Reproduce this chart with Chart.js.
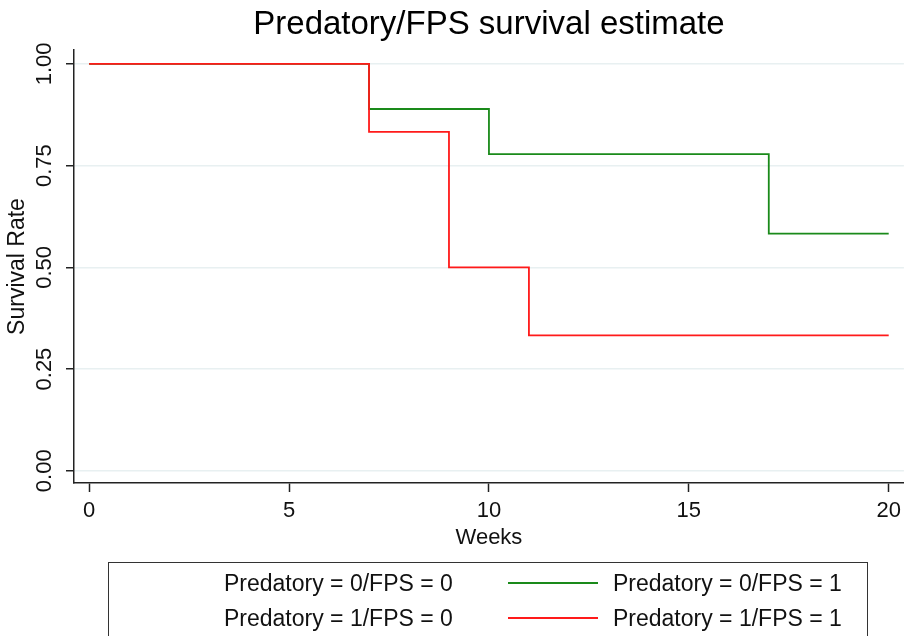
<!DOCTYPE html>
<html>
<head>
<meta charset="utf-8">
<script src="https://cdn.jsdelivr.net/npm/chart.js@4.4.1/dist/chart.umd.min.js"></script>
<style>
  html, body { margin: 0; padding: 0; background: #fff; overflow: hidden; }
  #wrap { position: relative; width: 907px; height: 636px; }
  #legend { position: absolute; left: 108px; top: 562px; width: 760px; height: 100px;
    border: 1.5px solid #333; box-sizing: border-box; font: 23px "Liberation Sans", Arial, sans-serif; color: #111; }
  .item { position: absolute; height: 30px; display: flex; align-items: center; }
  .key { width: 90px; height: 0; border-top: 2px solid transparent; margin-right: 15px; }
</style>
</head>
<body>
<div id="wrap">
  <canvas id="km" width="907" height="636"></canvas>
  <div id="legend"></div>
</div>
<script>
// Kaplan-Meier estimates (step changes at event weeks)
const seriesLabels = ["Predatory = 0/FPS = 0", "Predatory = 0/FPS = 1", "Predatory = 1/FPS = 0", "Predatory = 1/FPS = 1"];
const seriesColors = ["transparent", "#1a8a1a", "transparent", "#ff1a1a"];
const weeksP0F0 = [];
const survP0F0 = [];
const weeksP0F1 = [0, 7, 10, 17, 20];
const survP0F1 = [1, 0.889, 0.778, 0.583, 0.583];
const weeksP1F0 = [];
const survP1F0 = [];
const weeksP1F1 = [0, 7, 9, 11, 20];
const survP1F1 = [1, 0.833, 0.5, 0.333, 0.333];
const xTicks = [0, 5, 10, 15, 20];
const yTicks = [0, 0.25, 0.5, 0.75, 1];

const FONT = "'Liberation Sans', Arial, sans-serif";
const pts = (xs, ys) => xs.map((x, i) => ({ x, y: ys[i] }));
const series = [[weeksP0F0, survP0F0], [weeksP0F1, survP0F1], [weeksP1F0, survP1F0], [weeksP1F1, survP1F1]];

const datasets = series.map((s, i) => ({
  label: seriesLabels[i],
  data: pts(s[0], s[1]),
  borderColor: seriesColors[i],
  backgroundColor: "transparent",
  borderWidth: 1.8,
  stepped: true,
  pointRadius: 0,
  fill: false,
  order: i === 3 ? 0 : 1   // red on top of green for the shared start
}));

new Chart(document.getElementById("km").getContext("2d"), {
  type: "line",
  data: { datasets },
  options: {
    responsive: false,
    animation: false,
    layout: { padding: { left: 0, right: 2, top: 0, bottom: 83 } },
    plugins: {
      legend: { display: false },
      tooltip: { enabled: false },
      // fullSize off so the title centres over the plot region, as Stata does
      title: { display: true, fullSize: false, text: "Predatory/FPS survival estimate", color: "#000",
        font: { family: FONT, size: 33, weight: "normal" }, padding: { top: 5, bottom: 5.4 } }
    },
    scales: {
      x: {
        type: "linear", min: -0.38, max: 20.38,
        afterBuildTicks: s => { s.ticks = xTicks.map(v => ({ value: v })); },
        afterFit: s => { s.height = 70; },
        grid: { drawOnChartArea: false, drawTicks: true, tickLength: 9, tickColor: "#222", tickWidth: 1.5 },
        border: { color: "#222", width: 1.5 },
        ticks: { color: "#111", padding: 6, maxRotation: 0, font: { family: FONT, size: 22 } },
        title: { display: true, text: "Weeks", color: "#111", padding: { top: 0, bottom: 2 },
          font: { family: FONT, size: 22 } }
      },
      y: {
        type: "linear", min: -0.03, max: 1.034,
        afterBuildTicks: s => { s.ticks = yTicks.map(v => ({ value: v })); },
        afterFit: s => { s.width = 74; },
        grid: { color: "#e8f0f1", lineWidth: 1.5, drawTicks: true, tickLength: 8, tickColor: "#222", tickWidth: 1.5 },
        border: { color: "#222", width: 1.5 },
        ticks: { color: "#111", padding: 0, minRotation: 90, maxRotation: 90, crossAlign: "center",
          font: { family: FONT, size: 22 }, callback: v => Number(v).toFixed(2) },
        title: { display: true, text: "Survival Rate", color: "#111", padding: { top: 4, bottom: 2 },
          font: { family: FONT, size: 23 } }
      }
    }
  }
});

// Stata-style boxed legend, 2 columns x 2 rows
const legend = document.getElementById("legend");
seriesLabels.forEach((lab, i) => {
  const el = document.createElement("div");
  el.className = "item";
  el.style.left = (10 + (i % 2) * 389) + "px";
  el.style.top = (5 + Math.floor(i / 2) * 35) + "px";
  el.innerHTML = '<span class="key" style="border-top-color:' + seriesColors[i] + '"></span><span>' + lab + '</span>';
  legend.appendChild(el);
});
</script>
</body>
</html>
